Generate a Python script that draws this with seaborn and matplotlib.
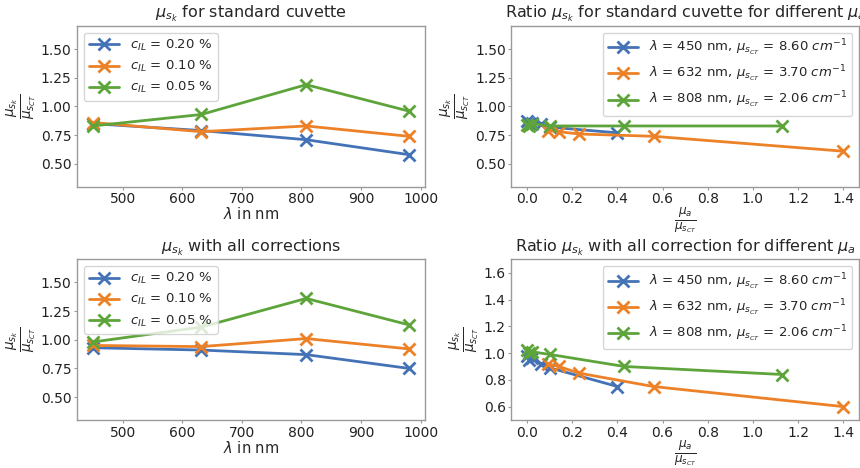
import numpy as np
import pandas as pd
import seaborn as sns
import matplotlib
matplotlib.use("Agg")
import matplotlib.pyplot as plt

# wavelengths for the left panels
wavelengths = [450, 632, 808, 980]
conc_labels = [r"$c_{IL}$ = 0.20 %", r"$c_{IL}$ = 0.10 %", r"$c_{IL}$ = 0.05 %"]

# mu_sk / mu_sCT for standard cuvette
std_020 = [0.85, 0.79, 0.71, 0.58]
std_010 = [0.86, 0.78, 0.83, 0.74]
std_005 = [0.83, 0.93, 1.19, 0.96]

# mu_sk / mu_sCT with all corrections
cor_020 = [0.93, 0.91, 0.87, 0.75]
cor_010 = [0.95, 0.94, 1.01, 0.92]
cor_005 = [0.98, 1.11, 1.36, 1.13]

# right panels: mu_a / mu_sCT on x
wl_labels = [r"$\lambda$ = 450 nm, $\mu_{s_{CT}}$ = 8.60 $cm^{-1}$",
             r"$\lambda$ = 632 nm, $\mu_{s_{CT}}$ = 3.70 $cm^{-1}$",
             r"$\lambda$ = 808 nm, $\mu_{s_{CT}}$ = 2.06 $cm^{-1}$"]
mua_450 = [0.0, 0.01, 0.02, 0.06, 0.10, 0.40]
mua_632 = [0.09, 0.14, 0.23, 0.56, 1.40]
mua_808 = [0.0, 0.01, 0.02, 0.10, 0.43, 1.13]

ratio_std_450 = [0.87, 0.86, 0.86, 0.85, 0.82, 0.77]
ratio_std_632 = [0.79, 0.78, 0.76, 0.74, 0.61]
ratio_std_808 = [0.84, 0.83, 0.85, 0.83, 0.83, 0.83]

ratio_cor_450 = [0.98, 0.95, 0.96, 0.92, 0.89, 0.75]
ratio_cor_632 = [0.92, 0.90, 0.85, 0.75, 0.60]
ratio_cor_808 = [1.02, 1.00, 1.01, 0.99, 0.90, 0.84]

colors = ["#4472b6", "#ec8128", "#5da43a"]

sns.set_style("white")
plt.rcParams["axes.edgecolor"] = "#9a9a9a"
plt.rcParams["axes.linewidth"] = 1.0
plt.rcParams["xtick.bottom"] = True
plt.rcParams["ytick.left"] = True
plt.rcParams["xtick.major.size"] = 2
plt.rcParams["ytick.major.size"] = 2
plt.rcParams["xtick.color"] = "#9a9a9a"
plt.rcParams["ytick.color"] = "#9a9a9a"
plt.rcParams["xtick.labelcolor"] = "#222222"
plt.rcParams["ytick.labelcolor"] = "#222222"
plt.rcParams["font.family"] = ["DejaVu Sans"]
plt.rcParams["mathtext.fontset"] = "dejavusans"

fig, axes = plt.subplots(2, 2, figsize=(8.6, 4.68), dpi=100)
fig.subplots_adjust(left=0.0895, right=0.9988, top=0.944, bottom=0.1026,
                    wspace=0.25, hspace=0.453)

ylab = r"$\frac{\mu_{s_k}}{\mu_{s_{CT}}}$"
xlab_ratio = r"$\frac{\mu_a}{\mu_{s_{CT}}}$"


def line_kw(c):
    return dict(color=c, marker="x", markersize=9, markeredgewidth=2,
                markeredgecolor=c, markerfacecolor=c, linewidth=2)


def lam_panel(ax, series, title):
    for vals, lab, c in zip(series, conc_labels, colors):
        df = pd.DataFrame({"wl": wavelengths, "v": vals})
        sns.lineplot(data=df, x="wl", y="v", ax=ax, label=lab, **line_kw(c))
    ax.set_ylim(0.3, 1.7)
    ax.set_yticks([0.5, 0.75, 1.0, 1.25, 1.5])
    ax.set_xticks([500, 600, 700, 800, 900, 1000])
    ax.set_xlabel(r"$\lambda$ in nm", fontsize=10.5, labelpad=0)
    ax.set_ylabel(ylab, fontsize=14, labelpad=2)
    ax.set_title(title, fontsize=11.5)
    ax.tick_params(labelsize=10, pad=2)
    ax.legend(loc="upper left", fontsize=9.5, handlelength=2.3,
              borderpad=0.4, labelspacing=0.45)


def ratio_panel(ax, xs, ys, title, ylim, yticks):
    for x, y, lab, c in zip(xs, ys, wl_labels, colors):
        df = pd.DataFrame({"x": x, "y": y})
        sns.lineplot(data=df, x="x", y="y", ax=ax, label=lab,
                     sort=False, **line_kw(c))
    ax.set_ylim(*ylim)
    ax.set_yticks(yticks)
    ax.set_xticks([0.0, 0.2, 0.4, 0.6, 0.8, 1.0, 1.2, 1.4])
    ax.set_xlabel(xlab_ratio, fontsize=12.5, labelpad=-1)
    ax.set_ylabel(ylab, fontsize=14, labelpad=2)
    ax.set_title(title, fontsize=11.5)
    ax.tick_params(labelsize=10, pad=2)
    ax.legend(loc="upper right", fontsize=9.5, handlelength=2.3,
              borderpad=0.4, labelspacing=0.45)


lam_panel(axes[0, 0], [std_020, std_010, std_005], r"$\mu_{s_k}$ for standard cuvette")
lam_panel(axes[1, 0], [cor_020, cor_010, cor_005], r"$\mu_{s_k}$ with all corrections")

ratio_panel(axes[0, 1], [mua_450, mua_632, mua_808],
            [ratio_std_450, ratio_std_632, ratio_std_808],
            r"Ratio $\mu_{s_k}$ for standard cuvette for different $\mu_a$",
            (0.3, 1.7), [0.5, 0.75, 1.0, 1.25, 1.5])
ratio_panel(axes[1, 1], [mua_450, mua_632, mua_808],
            [ratio_cor_450, ratio_cor_632, ratio_cor_808],
            r"Ratio $\mu_{s_k}$ with all correction for different $\mu_a$",
            (0.5, 1.7), [0.6, 0.8, 1.0, 1.2, 1.4, 1.6])

fig.savefig("out.png", dpi=100)
